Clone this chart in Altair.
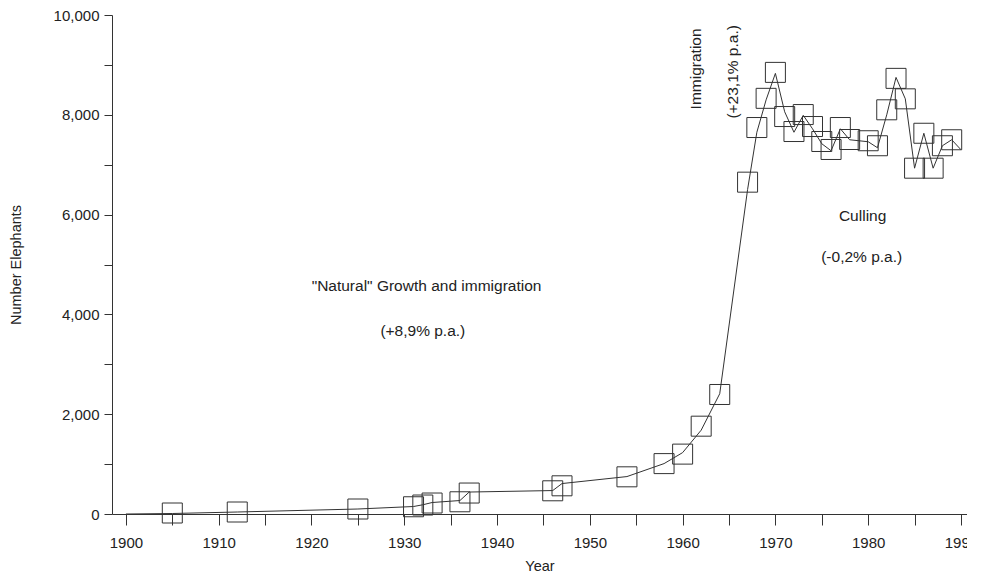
import altair as alt
import pandas as pd

# Observed elephant counts (squares)
obs_years = [1905, 1912, 1925, 1931, 1932, 1933, 1936, 1937, 1946, 1947, 1954, 1958, 1960,
             1962, 1964, 1967, 1968, 1969, 1970, 1971, 1972, 1973, 1974, 1975, 1976, 1977,
             1978, 1980, 1981, 1982, 1983, 1984, 1985, 1986, 1987, 1988, 1989]
obs_values = [20, 40, 100, 145, 180, 220, 245, 420, 465, 565, 745, 1010, 1200,
              1760, 2395, 6650, 7745, 8330, 8850, 7965, 7665, 8005, 7765, 7465, 7305, 7745,
              7505, 7480, 7380, 8100, 8730, 8320, 6930, 7630, 6930, 7380, 7500]

# Connecting line
line_years = [1900, 1905, 1912, 1925, 1931, 1932, 1933, 1936, 1937, 1946, 1947, 1954, 1958,
              1960, 1962, 1964, 1967, 1968, 1969, 1970, 1971, 1972, 1973, 1974, 1975, 1976,
              1977, 1978, 1980, 1981, 1982, 1983, 1984, 1985, 1986, 1987, 1988, 1989, 1990]
line_values = [0, 10, 40, 100, 150, 185, 230, 270, 440, 470, 610, 750, 1010,
               1230, 1680, 2410, 6500, 7650, 8300, 8830, 8060, 7650, 7990, 7720, 7420, 7280,
               7720, 7500, 7460, 7340, 8000, 8750, 8320, 6930, 7630, 6930, 7380, 7500, 7300]

# Annotations
ann_text = ['"Natural" Growth and immigration', '(+8,9% p.a.)', 'Culling', '(-0,2% p.a.)']
ann_x = [1932.4, 1932.0, 1979.4, 1979.3]
ann_y = [4570, 3670, 5970, 5150]

rot_text = ['Immigration', '(+23,1% p.a.)']
rot_x = [1961.4, 1965.4]
rot_y = [8920, 8860]

FONT = "Liberation Sans"
INK = "#222222"

obs = pd.DataFrame({"Year": obs_years, "Elephants": obs_values})
line = pd.DataFrame({"Year": line_years, "Elephants": line_values})
ann = pd.DataFrame({"x": ann_x, "y": ann_y, "t": ann_text})
rot = pd.DataFrame({"x": rot_x, "y": rot_y, "t": rot_text})

xscale = alt.Scale(domain=[1898.5, 1990.65], nice=False, zero=False)
yscale = alt.Scale(domain=[0, 10000], nice=False)

xaxis = alt.Axis(values=list(range(1900, 1991, 5)),
                 labelExpr="datum.value % 10 === 0 ? datum.value : ''",
                 title="Year", grid=False, tickSize=11, labelPadding=10,
                 titlePadding=9)
yaxis = alt.Axis(values=list(range(0, 10001, 1000)),
                 labelExpr="datum.value % 2000 === 0 ? format(datum.value, ',') : ''",
                 title="Number Elephants", grid=False, tickSize=8, labelPadding=5,
                 titlePadding=30)

x = alt.X("Year:Q", scale=xscale, axis=xaxis)
y = alt.Y("Elephants:Q", scale=yscale, axis=yaxis)

squares = alt.Chart(obs).mark_point(shape="square", filled=False, size=400,
                                    color="#333333", strokeWidth=1, opacity=1).encode(x=x, y=y)
path = alt.Chart(line).mark_line(color="#333333", strokeWidth=1, clip=True).encode(x=x, y=y)

texts = alt.Chart(ann).mark_text(font=FONT, fontSize=15.5, color=INK, align="center",
                                 baseline="middle").encode(
    x=alt.X("x:Q", scale=xscale), y=alt.Y("y:Q", scale=yscale), text="t:N")
rtexts = alt.Chart(rot).mark_text(font=FONT, fontSize=15.5, color=INK, align="center",
                                  baseline="middle", angle=270).encode(
    x=alt.X("x:Q", scale=xscale), y=alt.Y("y:Q", scale=yscale), text="t:N")

chart = alt.layer(path, squares, texts, rtexts).properties(
    width=855, height=499,
    autosize=alt.AutoSizeParams(type="none"),
    padding={"left": 104, "top": 7, "right": 0, "bottom": 58},
).configure_view(stroke=None).configure_axis(
    labelFont=FONT, titleFont=FONT, labelFontSize=15, titleFontSize=14.5,
    labelColor=INK, titleColor=INK, titleFontWeight="normal",
    domainColor="#333333", tickColor="#333333", domainWidth=1, tickWidth=1,
)

chart.save("out.html", embed_options={"renderer": "svg", "actions": False})
